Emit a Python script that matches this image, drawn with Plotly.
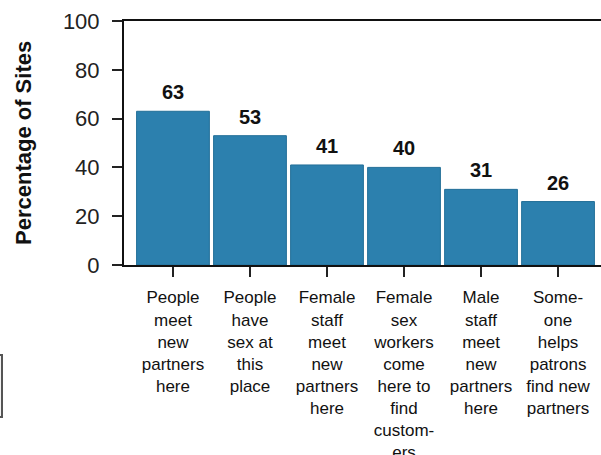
import plotly.graph_objects as go

categories = [
    "People<br>meet<br>new<br>partners<br>here",
    "People<br>have<br>sex at<br>this<br>place",
    "Female<br>staff<br>meet<br>new<br>partners<br>here",
    "Female<br>sex<br>workers<br>come<br>here to<br>find<br>custom-<br>ers",
    "Male<br>staff<br>meet<br>new<br>partners<br>here",
    "Some-<br>one<br>helps<br>patrons<br>find new<br>partners",
]
values = [63, 53, 41, 40, 31, 26]
y_ticks = [0, 20, 40, 60, 80, 100]
y_title = "Percentage of Sites"

FONT = "Liberation Sans, Arial, Helvetica, sans-serif"
W, H = 601, 455
L, T, R, B = 124, 21, 0, 190
pw, ph = W - L - R, H - T - B

fig = go.Figure()
fig.add_trace(go.Bar(
    x=categories, y=values,
    marker=dict(color="#2c80ae", line=dict(color="#236f98", width=1)),
    showlegend=False, hoverinfo="skip",
))

annotations = []
for c, v in zip(categories, values):
    annotations.append(dict(
        x=c, y=v, xref="x", yref="y", text=f"<b>{v}</b>", showarrow=False,
        yanchor="bottom", yshift=6,
        font=dict(family=FONT, size=20, color="#111111"),
    ))
annotations.append(dict(
    x=0, y=0.5, xref="paper", yref="paper", xanchor="center", yanchor="middle",
    xshift=-(L - 23), textangle=-90, showarrow=False,
    text=f"<b>{y_title}</b>", font=dict(family=FONT, size=22, color="#111111"),
))

fig.update_layout(
    width=W, height=H,
    margin=dict(l=L, r=R, t=T, b=B, autoexpand=False),
    paper_bgcolor="white", plot_bgcolor="white",
    bargap=0.055,
    annotations=annotations,
    shapes=[dict(
        type="rect", xref="paper", yref="paper",
        x0=(-12 - L) / pw, x1=(2 - L) / pw,
        y0=(265 - 417) / ph, y1=(265 - 355) / ph,
        line=dict(color="#555555", width=2), fillcolor="#f3f3f3", layer="above",
    )],
    xaxis=dict(
        range=[-0.636, 5.558], showline=True, linecolor="#111111", linewidth=2,
        mirror=True, ticks="outside", ticklen=10, tickwidth=2, tickcolor="#222222",
        showgrid=False, zeroline=False, automargin=False, ticklabelstandoff=6,
        tickfont=dict(family=FONT, size=17, color="#111111"),
    ),
    yaxis=dict(
        range=[0, 100], tickvals=y_ticks, ticktext=[str(t) for t in y_ticks],
        showline=True, linecolor="#111111", linewidth=2,
        ticks="outside", ticklen=10, tickwidth=2, tickcolor="#222222",
        showgrid=False, zeroline=False, automargin=False, ticklabelstandoff=8,
        tickfont=dict(family=FONT, size=22, color="#222222"),
    ),
)

fig.write_html(
    "out.html",
    config={"displayModeBar": False, "staticPlot": True},
    post_script="document.body.style.margin='0px';document.body.style.overflow='hidden';",
)
